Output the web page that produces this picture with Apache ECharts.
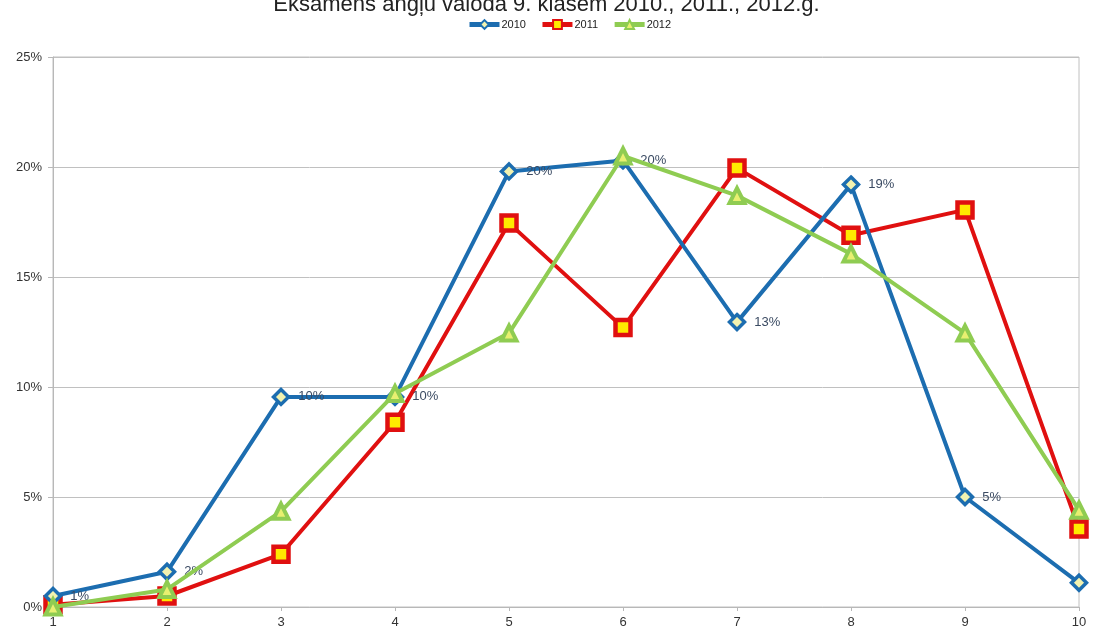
<!DOCTYPE html>
<html>
<head>
<meta charset="utf-8">
<title>Eksāmens angļu valodā</title>
<script src="https://cdn.jsdelivr.net/npm/echarts@6/dist/echarts.min.js"></script>
<style>
    html, body { margin: 0; padding: 0; background: #fff; }
    #chart { width: 1093px; height: 635px; }
</style>
</head>
<body>
<div id="chart"></div>
<script>
// grades 1..10, share of pupils in %
var grades = ['1', '2', '3', '4', '5', '6', '7', '8', '9', '10'];
var y2010 = [0.5, 1.6, 9.55, 9.55, 19.8, 20.3, 12.95, 19.2, 5.0, 1.1];
var y2011 = [0.1, 0.5, 2.4, 8.4, 17.45, 12.7, 19.95, 16.9, 18.05, 3.55];
var y2012 = [0.0, 0.8, 4.35, 9.7, 12.45, 20.5, 18.7, 16.05, 12.45, 4.4];
var yTicks = [0, 5, 10, 15, 20, 25];

window.onload = function () {
    var font = 'Liberation Sans, Arial, sans-serif';

    var option = {
        animation: false,
        title: {
            text: 'Eksāmens angļu valodā 9. klasēm 2010., 2011., 2012.g.',
            left: 'center',
            top: -11,
            textStyle: {
                fontFamily: font,
                fontSize: 22,
                fontWeight: 'normal',
                color: '#222'
            }
        },
        legend: {
            top: 14,
            left: 462,
            itemWidth: 30,
            itemHeight: 11,
            itemGap: 14,
            lineStyle: { width: 5 },
            textStyle: {
                fontFamily: font,
                fontSize: 11,
                color: '#222',
                padding: [0, 0, 0, -3]
            },
            data: ['2010', '2011', '2012']
        },
        grid: {
            left: 53,
            right: 14,
            top: 57,
            bottom: 28,
            show: true,
            borderColor: '#c0c0c0',
            borderWidth: 1
        },
        xAxis: {
            type: 'category',
            data: grades,
            boundaryGap: false,
            axisLine: { lineStyle: { color: '#b8b8b8', width: 1 } },
            axisTick: { show: true, length: 4, lineStyle: { color: '#b8b8b8' } },
            axisLabel: { fontFamily: font, fontSize: 13, color: '#333', margin: 9 }
        },
        yAxis: {
            type: 'value',
            min: yTicks[0],
            max: yTicks[yTicks.length - 1],
            interval: 5,
            axisLine: { show: true, lineStyle: { color: '#b8b8b8' } },
            axisTick: { show: true, length: 5, lineStyle: { color: '#b8b8b8' } },
            splitLine: { lineStyle: { color: '#c0c0c0', width: 1 } },
            axisLabel: {
                fontFamily: font,
                fontSize: 13,
                color: '#333',
                margin: 11,
                formatter: function (v) { return v + '%'; }
            }
        },
        series: [{
            name: '2010',
            type: 'line',
            data: y2010,
            symbol: 'diamond',
            symbolSize: 15,
            lineStyle: { color: '#1c6db0', width: 4 },
            itemStyle: { color: '#f2f2b0', borderColor: '#1c6db0', borderWidth: 3.5 },
            label: {
                show: true,
                position: 'right',
                distance: 8,
                fontFamily: font,
                fontSize: 13,
                color: '#3a4a62',
                formatter: function (p) { return Math.round(p.value) + '%'; }
            },
            z: 3
        }, {
            name: '2011',
            type: 'line',
            data: y2011,
            symbol: 'rect',
            symbolSize: 15,
            lineStyle: { color: '#e01010', width: 4 },
            itemStyle: { color: '#ffea00', borderColor: '#e01010', borderWidth: 4.5 },
            z: 2
        }, {
            name: '2012',
            type: 'line',
            data: y2012,
            symbol: 'triangle',
            symbolSize: 15,
            lineStyle: { color: '#8fcc52', width: 4 },
            itemStyle: { color: '#e8f070', borderColor: '#8fcc52', borderWidth: 4 },
            z: 4
        }]
    };

    var chart = echarts.init(document.getElementById('chart'));
    chart.setOption(option);
};
</script>
</body>
</html>
